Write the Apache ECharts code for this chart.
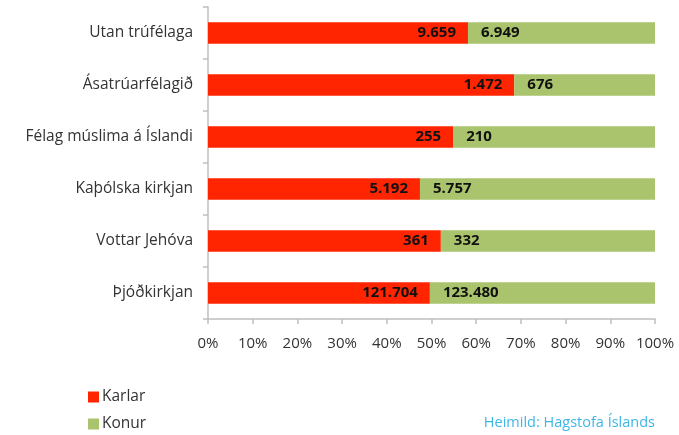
<!DOCTYPE html>
<html>
<head>
<meta charset="utf-8">
<script src="https://cdn.jsdelivr.net/npm/echarts@6/dist/echarts.min.js"></script>
<style>
  html, body { margin: 0; padding: 0; background: #fff; }
  #chart { width: 679px; height: 435px; }
</style>
</head>
<body>
<div id="chart"></div>
<script>
// trúfélög, efst til neðst
var categories = ['Utan trúfélaga', 'Ásatrúarfélagið', 'Félag múslima á Íslandi', 'Kaþólska kirkjan', 'Vottar Jehóva', 'Þjóðkirkjan'];
var karlar = [9659, 1472, 255, 5192, 361, 121704];
var konur = [6949, 676, 210, 5757, 332, 123480];
var xTicks = [0, 10, 20, 30, 40, 50, 60, 70, 80, 90, 100];

var FONT = '"Open Sans", sans-serif';

// hlutfall af heild (100% stöplar)
function pct(arr, i) {
  return arr[i] / (karlar[i] + konur[i]) * 100;
}
// 121704 -> 121.704
function fmt(n) {
  return String(n).replace(/\B(?=(\d{3})+(?!\d))/g, '.');
}

var karlarData = karlar.map(function (v, i) { return { value: pct(karlar, i), raw: v }; });
var konurData = konur.map(function (v, i) { return { value: pct(konur, i), raw: v }; });

var chart = echarts.init(document.getElementById('chart'));
chart.setOption({
  animation: false,
  color: ['#ff2500', '#a9c46c'],
  grid: { left: 208, right: 24, top: 7, bottom: 116 },
  legend: {
    orient: 'vertical',
    left: 83,
    top: 383,
    height: 60,
    itemWidth: 11,
    itemHeight: 11,
    itemGap: 9,
    icon: 'rect',
    textStyle: { fontFamily: FONT, fontSize: 15.5, lineHeight: 18, color: '#333', padding: [0, 0, 0, -2] },
    data: ['Karlar', 'Konur']
  },
  xAxis: {
    type: 'value',
    min: xTicks[0],
    max: xTicks[xTicks.length - 1],
    interval: 10,
    splitLine: { show: false },
    axisLine: { show: true, lineStyle: { color: '#bfbfbf', width: 1.5 } },
    axisTick: { show: true, length: 5, lineStyle: { color: '#bfbfbf', width: 1.5 } },
    axisLabel: {
      margin: 17,
      fontFamily: FONT, fontSize: 15, color: '#333',
      formatter: function (v) { return v + '%'; }
    }
  },
  yAxis: {
    type: 'category',
    inverse: true,
    data: categories,
    axisLine: { show: true, lineStyle: { color: '#bfbfbf', width: 1.5 } },
    axisTick: { show: true, length: 5, lineStyle: { color: '#bfbfbf', width: 1.5 } },
    axisLabel: { margin: 15, fontFamily: FONT, fontSize: 15.5, color: '#333' }
  },
  series: [
    {
      name: 'Karlar',
      type: 'bar',
      stack: 'a',
      barWidth: '41%',
      data: karlarData,
      label: {
        show: true,
        position: 'insideRight',
        distance: 12,
        fontFamily: FONT, fontSize: 15, fontWeight: 'bold', color: '#111',
        formatter: function (p) { return fmt(p.data.raw); }
      }
    },
    {
      name: 'Konur',
      type: 'bar',
      stack: 'a',
      barWidth: '41%',
      data: konurData,
      label: {
        show: true,
        position: 'insideLeft',
        distance: 13,
        fontFamily: FONT, fontSize: 15, fontWeight: 'bold', color: '#111',
        formatter: function (p) { return fmt(p.data.raw); }
      }
    }
  ],
  graphic: [{
    type: 'text',
    right: 24,
    top: 415,
    style: { text: 'Heimild: Hagstofa Íslands', fontFamily: FONT, fontSize: 14.5, fill: '#3db6e8' }
  }]
});
</script>
</body>
</html>
